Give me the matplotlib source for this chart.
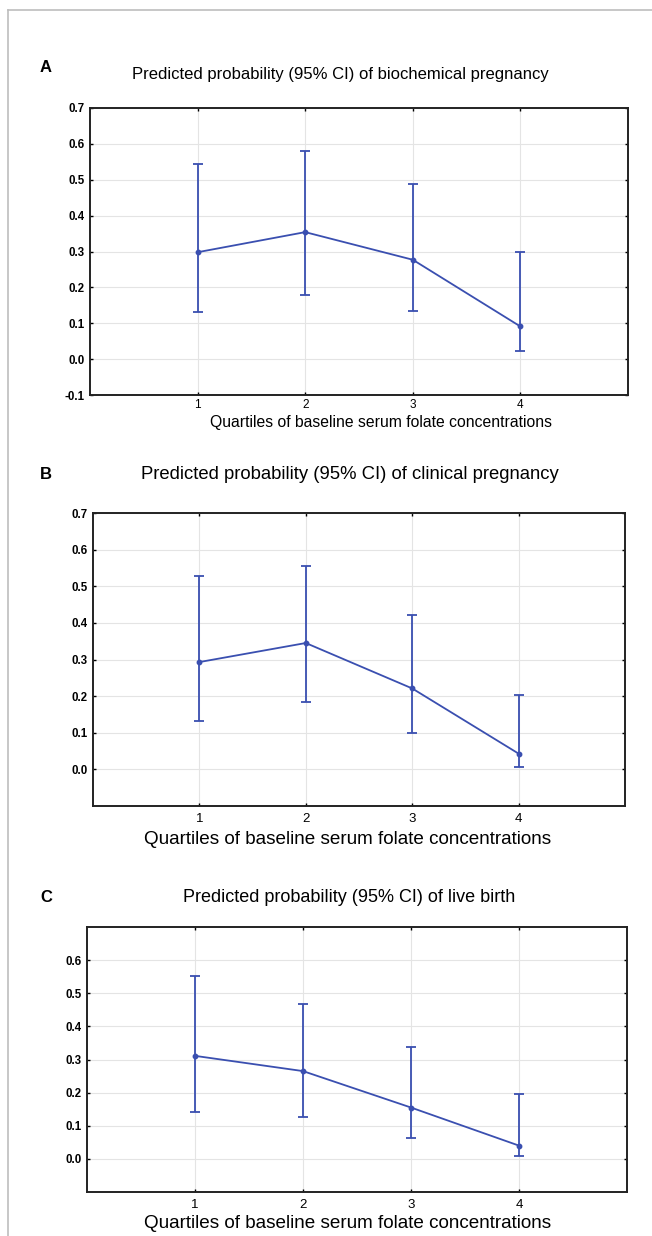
import matplotlib
matplotlib.use("Agg")
import matplotlib.pyplot as plt
from matplotlib.lines import Line2D

plt.rcParams['font.family'] = ['Liberation Sans', 'DejaVu Sans']

quartiles = [1, 2, 3, 4]
quartile_labels = ["1", "2", "3", "4"]

# Panel A: biochemical pregnancy
a_est = [0.298, 0.354, 0.277, 0.091]
a_low = [0.132, 0.180, 0.135, 0.023]
a_high = [0.545, 0.580, 0.489, 0.298]

# Panel B: clinical pregnancy
b_est = [0.293, 0.345, 0.221, 0.043]
b_low = [0.132, 0.185, 0.100, 0.007]
b_high = [0.527, 0.556, 0.422, 0.204]

# Panel C: live birth
c_est = [0.311, 0.265, 0.155, 0.040]
c_low = [0.142, 0.127, 0.062, 0.008]
c_high = [0.553, 0.469, 0.338, 0.196]

a_yticks = [-0.1, 0.0, 0.1, 0.2, 0.3, 0.4, 0.5, 0.6, 0.7]
b_yticks = [0.0, 0.1, 0.2, 0.3, 0.4, 0.5, 0.6, 0.7]
c_yticks = [0.0, 0.1, 0.2, 0.3, 0.4, 0.5, 0.6]

titles = ["Predicted probability (95% CI) of biochemical pregnancy",
          "Predicted probability (95% CI) of clinical pregnancy",
          "Predicted probability (95% CI) of live birth"]
xlabel = "Quartiles of baseline serum folate concentrations"
panel_letters = ["A", "B", "C"]

W, H = 652, 1236
fig = plt.figure(figsize=(W / 100, H / 100), dpi=100)

def fx(px):
    return px / W

def fy(py):
    return 1 - py / H

BLUE = "#3a4fb0"

panels = [
    dict(est=a_est, low=a_low, high=a_high, yt=a_yticks,
         box=(90, 108, 628, 395), title_x=340, title_y=74, title_fs=12,
         xl_x=381, xl_y=423, xl_fs=11.3, letter_y=67, xt_fs=8.5, xpad=3),
    dict(est=b_est, low=b_low, high=b_high, yt=b_yticks,
         box=(93, 513, 625, 806), title_x=350, title_y=474, title_fs=13.3,
         xl_x=348, xl_y=839, xl_fs=13.6, letter_y=474, xt_fs=9.5, xpad=5),
    dict(est=c_est, low=c_low, high=c_high, yt=c_yticks,
         box=(87, 927, 627, 1192), title_x=349, title_y=898, title_fs=13,
         xl_x=348, xl_y=1224, xl_fs=13.6, letter_y=898, xt_fs=9.5, xpad=5),
]

for i, p in enumerate(panels):
    l, t, r, b = p["box"]
    ax = fig.add_axes([fx(l), fy(b), fx(r) - fx(l), fy(t) - fy(b)])
    est = p["est"]
    yerr = [[e - lo for e, lo in zip(est, p["low"])],
            [hi - e for e, hi in zip(est, p["high"])]]
    ax.errorbar(quartiles, est, yerr=yerr, color=BLUE, lw=1.3, elinewidth=1.3,
                capsize=3.8, capthick=1.3, marker="o", ms=3.2, zorder=3)
    ax.set_xlim(0, 5)
    ax.set_ylim(-0.1, 0.7)
    ax.set_xticks(quartiles)
    ax.set_xticklabels(quartile_labels)
    ax.set_yticks(p["yt"])
    ax.set_yticklabels([f"{v:.1f}" for v in p["yt"]])
    ax.grid(True, color="#e4e4e4", lw=0.8, zorder=0)
    ax.tick_params(direction="in", length=2, width=1, top=True, right=True,
                   labelsize=8.3, pad=4)
    ax.tick_params(axis="x", pad=p["xpad"], labelsize=p["xt_fs"])
    for lab in ax.get_yticklabels():
        lab.set_fontweight("bold")
    for s in ax.spines.values():
        s.set_linewidth(1.4)
        s.set_color("#222222")
    fig.text(fx(p["xl_x"]), fy(p["xl_y"]), xlabel, ha="center", va="center",
             fontsize=p["xl_fs"])
    fig.text(fx(p["title_x"]), fy(p["title_y"]), titles[i], ha="center", va="center",
             fontsize=p["title_fs"])
    fig.text(fx(46), fy(p["letter_y"]), panel_letters[i], ha="center", va="center",
             fontsize=12, fontweight="bold")

# frame lines
fig.add_artist(Line2D([fx(8), 1], [fy(10), fy(10)], color="#bdbdbd", lw=1.2,
                      transform=fig.transFigure))
fig.add_artist(Line2D([fx(8), fx(8)], [fy(10), 0], color="#bdbdbd", lw=1.2,
                      transform=fig.transFigure))

fig.savefig("out.png", dpi=100)
